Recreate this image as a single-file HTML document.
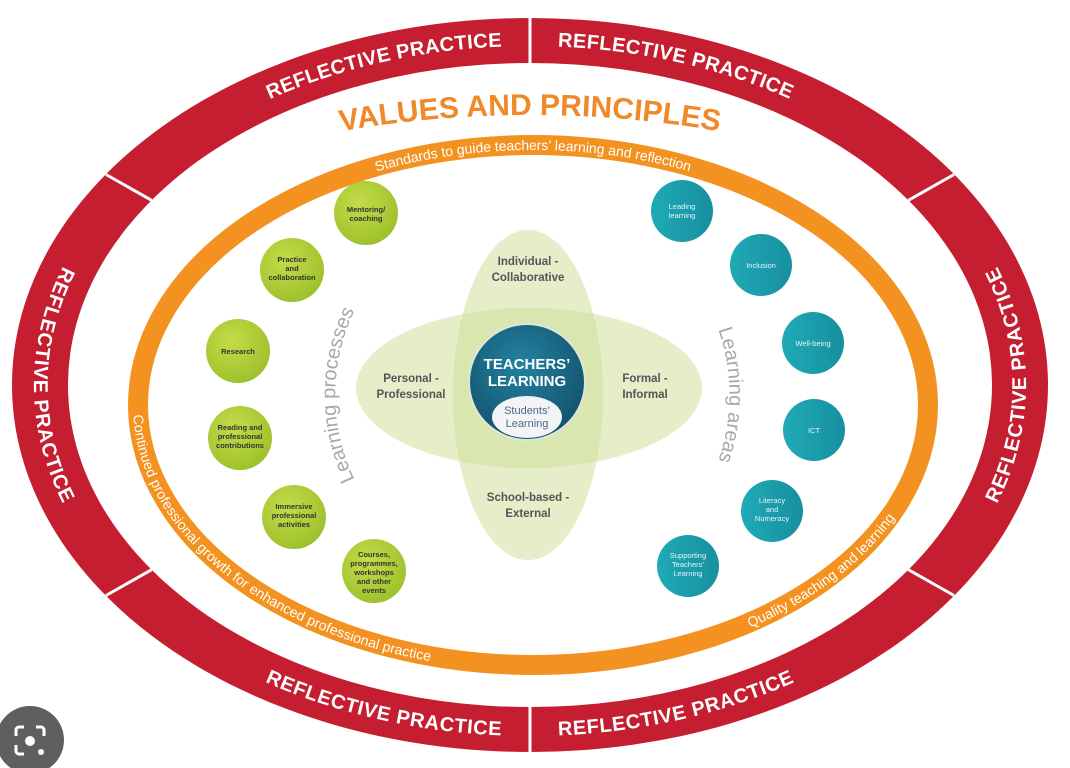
<!DOCTYPE html>
<html><head><meta charset="utf-8"><style>
html,body{margin:0;padding:0;background:#fff;}
svg{display:block;font-family:"Liberation Sans",sans-serif;}
</style></head><body>
<svg width="1070" height="768" viewBox="0 0 1070 768" xmlns="http://www.w3.org/2000/svg">
<defs>
<radialGradient id="gg" cx="0.4" cy="0.35" r="0.7"><stop offset="0" stop-color="#c4dc4a"/><stop offset="1" stop-color="#9cc02a"/></radialGradient>
<linearGradient id="tg" x1="0" y1="0" x2="1" y2="0"><stop offset="0" stop-color="#20aab6"/><stop offset="1" stop-color="#178f9f"/></linearGradient>
<radialGradient id="cg" cx="0.45" cy="0.35" r="0.7"><stop offset="0" stop-color="#2282a0"/><stop offset="1" stop-color="#124f6a"/></radialGradient>
<path id="pTL" d="M128.6,187 A490,345 0 0 1 530,40"/>
<path id="pTR" d="M530,40 A490,345 0 0 1 931.4,187"/>
<path id="pL" d="M128.6,187 A490,345 0 0 0 128.6,583"/>
<path id="pR" d="M931.4,583 A490,345 0 0 0 931.4,187"/>
<path id="pBL" d="M128.6,583 A490,345 0 0 0 530,730"/>
<path id="pBR" d="M530,730 A490,345 0 0 0 931.4,583"/>
<path id="pVal" d="M-70,435 A600,320 0 0 1 1130,435"/>
<path id="pStd" d="M138,405 A395,260 0 0 1 928,405"/>
<path id="pCont" d="M161.8,316.1 A395,260 0 0 0 533,665"/>
<path id="pQual" d="M635.2,656.1 A395,260 0 0 0 928,405"/>
<path id="pLP" d="M370,506 A195,195 0 0 1 370,284"/>
<path id="pLA" d="M693,280 A200,200 0 0 1 693,510"/>
</defs>

<ellipse cx="530" cy="385" rx="518" ry="367" fill="#c41e30"/>
<ellipse cx="530" cy="385" rx="462" ry="322" fill="#fff"/>
<g stroke="#fff" stroke-width="3">
<line x1="530" y1="16" x2="530" y2="64"/>
<line x1="530" y1="706" x2="530" y2="754"/>
<line x1="106" y1="174.5" x2="151.6" y2="200.3"/>
<line x1="954" y1="174.5" x2="908.4" y2="200.3"/>
<line x1="954" y1="595.5" x2="908.4" y2="569.7"/>
<line x1="106" y1="595.5" x2="151.6" y2="569.7"/>
</g>
<g fill="#fff" font-weight="bold" font-size="20" letter-spacing="0.5" dominant-baseline="central">
<text><textPath href="#pTL" startOffset="66%" text-anchor="middle">REFLECTIVE PRACTICE</textPath></text>
<text><textPath href="#pTR" startOffset="34%" text-anchor="middle">REFLECTIVE PRACTICE</textPath></text>
<text><textPath href="#pL" startOffset="50%" text-anchor="middle">REFLECTIVE PRACTICE</textPath></text>
<text><textPath href="#pR" startOffset="50%" text-anchor="middle">REFLECTIVE PRACTICE</textPath></text>
<text><textPath href="#pBL" startOffset="66%" text-anchor="middle">REFLECTIVE PRACTICE</textPath></text>
<text><textPath href="#pBR" startOffset="34%" text-anchor="middle">REFLECTIVE PRACTICE</textPath></text>
</g>

<text fill="#f0892a" font-size="30" font-weight="bold"><textPath href="#pVal" startOffset="50%" text-anchor="middle">VALUES AND PRINCIPLES</textPath></text>

<ellipse cx="533" cy="405" rx="395" ry="260" fill="none" stroke="#f39220" stroke-width="20"/>
<g fill="#fff" font-size="14" dominant-baseline="central">
<text><textPath href="#pStd" startOffset="50%" text-anchor="middle">Standards to guide teachers’ learning and reflection</textPath></text>
<text><textPath href="#pCont" startOffset="50%" text-anchor="middle">Continued professional growth for enhanced professional practice</textPath></text>
<text><textPath href="#pQual" startOffset="50%" text-anchor="middle">Quality teaching and learning</textPath></text>
</g>

<g fill="#a8a8a8" font-size="20">
<text><textPath href="#pLP" startOffset="50%" text-anchor="middle">Learning processes</textPath></text>
<text><textPath href="#pLA" startOffset="50%" text-anchor="middle">Learning areas</textPath></text>
</g>

<g fill="#cfe09a" fill-opacity="0.55">
<ellipse cx="528" cy="395" rx="75" ry="165"/>
<ellipse cx="529" cy="388" rx="173" ry="80"/>
</g>
<g font-size="11.5" font-weight="bold" fill="#555" text-anchor="middle">
<text x="528" y="265">Individual -</text><text x="528" y="281">Collaborative</text>
<text x="411" y="382">Personal -</text><text x="411" y="398">Professional</text>
<text x="645" y="382">Formal -</text><text x="645" y="398">Informal</text>
<text x="528" y="501">School-based -</text><text x="528" y="517">External</text>
</g>

<circle cx="527" cy="382" r="58" fill="url(#cg)" stroke="#dfe6d8" stroke-width="2"/>
<g fill="#fff" font-weight="bold" font-size="15" text-anchor="middle">
<text x="527" y="369">TEACHERS’</text><text x="527" y="386">LEARNING</text>
</g>
<ellipse cx="527" cy="417" rx="35" ry="21" fill="#f2f4f6"/>
<g fill="#4d6a86" font-size="11" text-anchor="middle">
<text x="527" y="414">Students’</text><text x="527" y="427">Learning</text>
</g>

<g fill="url(#gg)">
<circle cx="366" cy="213" r="32"/><circle cx="292" cy="270" r="32"/>
<circle cx="238" cy="351" r="32"/><circle cx="240" cy="438" r="32"/>
<circle cx="294" cy="517" r="32"/><circle cx="374" cy="571" r="32"/>
</g>
<g fill="#333" font-size="7.5" font-weight="bold" text-anchor="middle">
<text x="366" y="212">Mentoring/</text><text x="366" y="221">coaching</text>
<text x="292" y="262">Practice</text><text x="292" y="271">and</text><text x="292" y="280">collaboration</text>
<text x="238" y="354">Research</text>
<text x="240" y="430">Reading and</text><text x="240" y="439">professional</text><text x="240" y="448">contributions</text>
<text x="294" y="509">Immersive</text><text x="294" y="518">professional</text><text x="294" y="527">activities</text>
<text x="374" y="557">Courses,</text><text x="374" y="566">programmes,</text><text x="374" y="575">workshops</text><text x="374" y="584">and other</text><text x="374" y="593">events</text>
</g>

<g fill="url(#tg)">
<circle cx="682" cy="211" r="31"/><circle cx="761" cy="265" r="31"/>
<circle cx="813" cy="343" r="31"/><circle cx="814" cy="430" r="31"/>
<circle cx="772" cy="511" r="31"/><circle cx="688" cy="566" r="31"/>
</g>
<g fill="#e6f6f8" font-size="7.5" text-anchor="middle">
<text x="682" y="209">Leading</text><text x="682" y="218">learning</text>
<text x="761" y="268">Inclusion</text>
<text x="813" y="346">Well-being</text>
<text x="814" y="433">ICT</text>
<text x="772" y="503">Literacy</text><text x="772" y="512">and</text><text x="772" y="521">Numeracy</text>
<text x="688" y="558">Supporting</text><text x="688" y="567">Teachers’</text><text x="688" y="576">Learning</text>
</g>

<circle cx="30" cy="740" r="34" fill="#5f5f5f"/>
<path d="M16,736 v-6 a3,3 0 0 1 3,-3 h5 M36,727 h5 a3,3 0 0 1 3,3 v6 M16,745 v6 a3,3 0 0 0 3,3 h5" fill="none" stroke="#fff" stroke-width="3"/>
<circle cx="30" cy="741" r="5" fill="#fff"/>
<circle cx="41" cy="752" r="3" fill="#fff"/>
</svg>
</body></html>
